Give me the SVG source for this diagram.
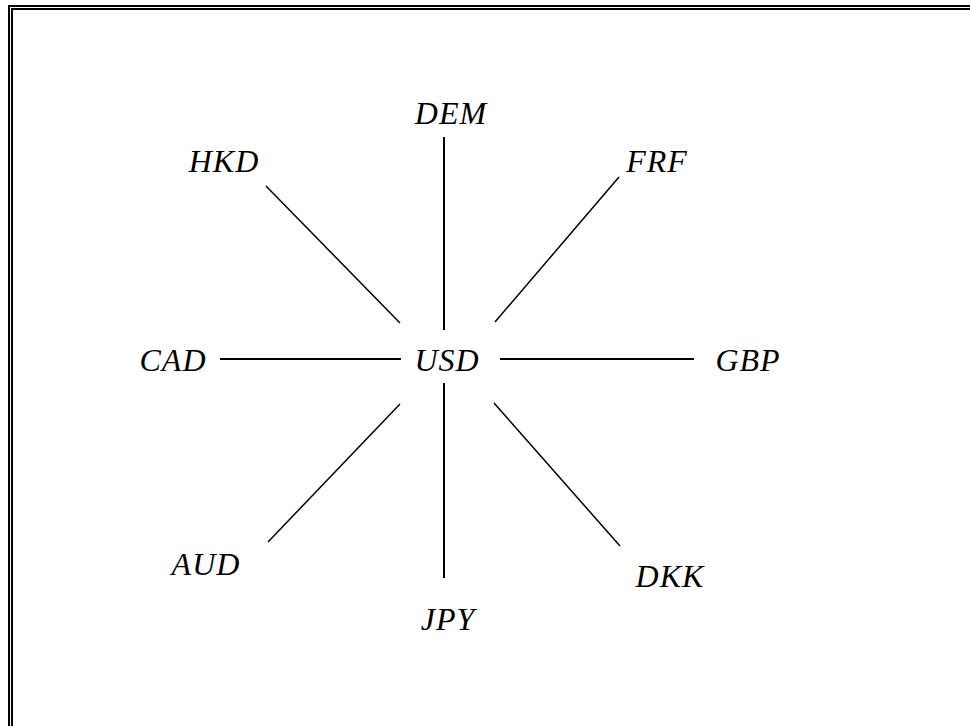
<svg xmlns="http://www.w3.org/2000/svg" width="970" height="726" viewBox="0 0 970 726">
<style>
text{font-family:'Liberation Serif','Times New Roman',serif;font-style:italic;font-size:32px;fill:#000;text-anchor:middle;letter-spacing:1px}
.s{stroke:#000;stroke-width:2;fill:none}
.d{stroke:#000;stroke-width:1.5;fill:none}
</style>
<rect width="970" height="726" fill="#fff"/>
<g id="frame">
<path class="s" d="M9,990 V6 H990"/>
<path class="s" d="M12,990 V9 H990"/>
</g>
<g id="connectors">
<line class="s" x1="444" y1="137" x2="444" y2="330"/>
<line class="s" x1="444" y1="383" x2="444" y2="578"/>
<line class="s" x1="220" y1="359" x2="401" y2="359"/>
<line class="s" x1="500" y1="359" x2="694" y2="359"/>
<line class="d" x1="266" y1="186" x2="400" y2="323"/>
<line class="d" x1="619" y1="177" x2="495" y2="322"/>
<line class="d" x1="268" y1="542" x2="400" y2="404"/>
<line class="d" x1="494" y1="403" x2="620" y2="546"/>
</g>
<g id="USD"><text x="447" y="371">USD</text></g>
<g id="DEM"><text x="451" y="124">DEM</text></g>
<g id="HKD"><text x="224" y="172">HKD</text></g>
<g id="FRF"><text x="657" y="172">FRF</text></g>
<g id="CAD"><text x="173" y="371">CAD</text></g>
<g id="GBP"><text x="748" y="371">GBP</text></g>
<g id="AUD"><text x="206" y="575">AUD</text></g>
<g id="DKK"><text x="670" y="587">DKK</text></g>
<g id="JPY"><text x="448" y="630">JPY</text></g>
</svg>
